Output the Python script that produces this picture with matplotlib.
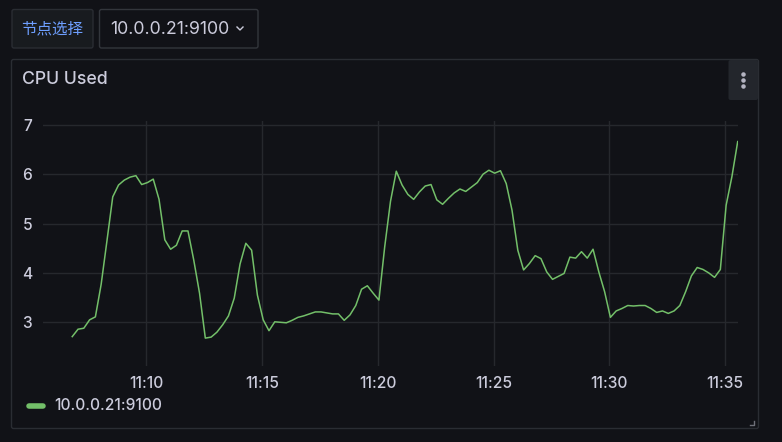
import datetime as dt
import numpy as np
import matplotlib.pyplot as plt
import matplotlib.dates as mdates
from matplotlib.patches import FancyBboxPatch

# CPU used, one sample every 15 s starting 11:06:48
cpu_used = [
    2.71, 2.86, 2.88, 3.05, 3.11, 3.77, 4.65, 5.54, 5.78, 5.88,
    5.94, 5.97, 5.79, 5.83, 5.90, 5.49, 4.67, 4.48, 4.56, 4.85,
    4.85, 4.26, 3.59, 2.68, 2.70, 2.80, 2.95, 3.13, 3.49, 4.18,
    4.60, 4.46, 3.55, 3.05, 2.83, 3.01, 3.00, 2.99, 3.04, 3.10,
    3.13, 3.17, 3.21, 3.21, 3.19, 3.17, 3.17, 3.04, 3.15, 3.34,
    3.67, 3.74, 3.59, 3.45, 4.53, 5.45, 6.06, 5.78, 5.59, 5.49,
    5.64, 5.76, 5.79, 5.48, 5.39, 5.51, 5.62, 5.70, 5.65, 5.74,
    5.83, 6.00, 6.08, 6.02, 6.07, 5.81, 5.27, 4.46, 4.06, 4.19,
    4.35, 4.29, 4.02, 3.87, 3.93, 3.99, 4.32, 4.30, 4.43, 4.30,
    4.48, 4.02, 3.62, 3.10, 3.23, 3.28, 3.34, 3.33, 3.34, 3.34,
    3.28, 3.20, 3.23, 3.18, 3.23, 3.34, 3.62, 3.94, 4.11, 4.07,
    4.00, 3.91, 4.07, 5.37, 5.95, 6.66,
]
start = dt.datetime(2024, 1, 1, 11, 6, 48)
times = [start + dt.timedelta(seconds=15 * i) for i in range(len(cpu_used))]
range_from = dt.datetime(2024, 1, 1, 11, 5, 33)
range_to = dt.datetime(2024, 1, 1, 11, 35, 33)
y_ticks = [3, 4, 5, 6, 7]

series_name = "10.0.0.21:9100"
panel_title = "CPU Used"
var_label = "节点选择"

BG = "#111217"
TEXT = "#ccccdc"
GRID = "#26282d"
BORDER = "#2a2d33"
GREEN = "#73bf69"

plt.rcParams["font.family"] = ["Inter", "DejaVu Sans"]

W, H = 782, 442
fig = plt.figure(figsize=(W / 100, H / 100), dpi=100, facecolor=BG)

# overlay in pixel coordinates for the dashboard chrome
deco = fig.add_axes([0, 0, 1, 1])
deco.set_xlim(0, W)
deco.set_ylim(H, 0)
deco.axis("off")
deco.set_facecolor(BG)

# variable label and dropdown
deco.add_patch(FancyBboxPatch((12, 9.5), 81, 38.5, boxstyle="round,pad=0,rounding_size=2",
                              fc="#181b1f", ec=BORDER, lw=1))
deco.text(52.5, 29, var_label, color="#6e9fff", fontsize=11.2, ha="center", va="center",
          family=["Noto Sans CJK SC", "DejaVu Sans"])
deco.add_patch(FancyBboxPatch((99.5, 9.5), 158.5, 38.5, boxstyle="round,pad=0,rounding_size=2",
                              fc=BG, ec="#33363c", lw=1))
deco.text(110, 29.5, series_name, color=TEXT, fontsize=12.8, ha="left", va="center")
deco.plot([237, 240, 243], [27, 30, 27], color=TEXT, lw=1)

# panel frame
deco.add_patch(FancyBboxPatch((11.5, 59.5), 747, 369, boxstyle="round,pad=0,rounding_size=2",
                              fc=BG, ec=BORDER, lw=1))
deco.text(22.5, 80, panel_title, color=TEXT, fontsize=12.7, ha="left", va="center",
          fontweight="medium")
deco.add_patch(FancyBboxPatch((728.5, 60), 29.5, 40, boxstyle="round,pad=0,rounding_size=2",
                              fc="#23262c", ec="none"))
deco.scatter([743, 743, 743], [74, 80, 86], s=5, color="#b4b4c2", zorder=5)
deco.plot([750, 754, 754], [424.5, 424.5, 420.5], color="#6e7079", lw=1)

# legend
deco.plot([29, 43], [406, 406], color=GREEN, lw=4, solid_capstyle="round")
deco.text(54, 406, series_name, color=TEXT, fontsize=11.2, ha="left", va="center",
          fontweight="medium")

# time series
ax = fig.add_axes([43.3 / W, 1 - 366 / H, (737.7 - 43.3) / W, (366 - 120.7) / H])
ax.set_facecolor("none")
ax.plot(times, cpu_used, color=GREEN, lw=1.1)
ax.set_xlim(range_from, range_to)
ax.set_ylim(2.115, 7.083)
ax.set_yticks(y_ticks)
ax.xaxis.set_major_locator(mdates.MinuteLocator(byminute=range(0, 60, 5)))
ax.xaxis.set_major_formatter(mdates.DateFormatter("%H:%M"))
ax.grid(True, color=GRID, lw=1)
ax.tick_params(length=0, colors=TEXT, labelsize=11.2)
ax.tick_params(axis="y", pad=8)
ax.tick_params(axis="x", pad=7)
for lab in ax.get_xticklabels() + ax.get_yticklabels():
    lab.set_fontweight("medium")
for s in ax.spines.values():
    s.set_visible(False)

plt.savefig("out.png", dpi=100, facecolor=BG)
